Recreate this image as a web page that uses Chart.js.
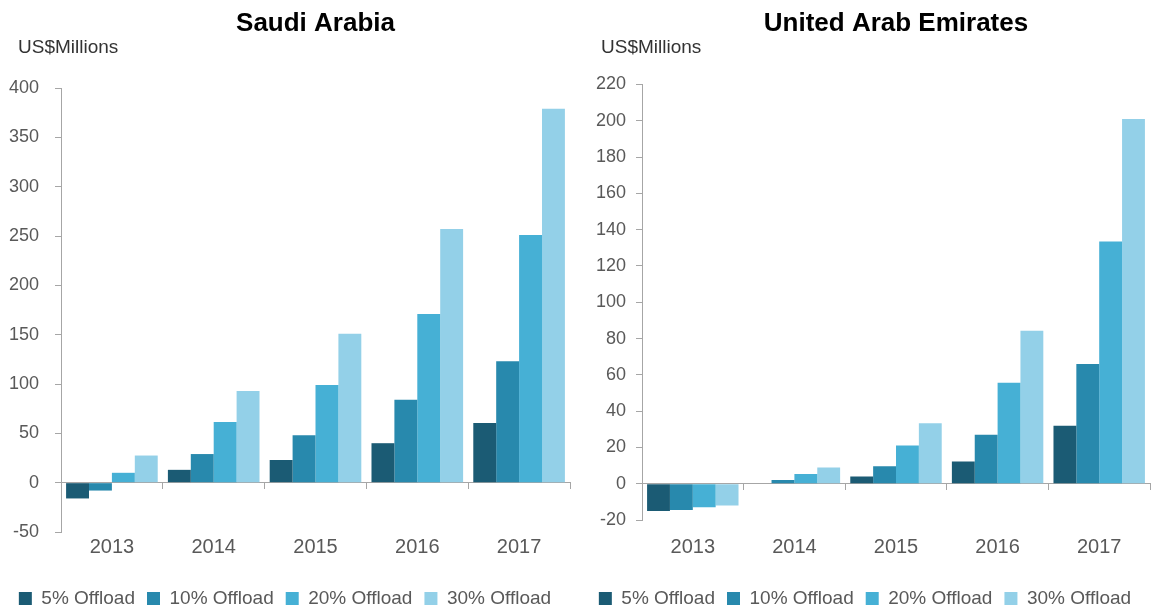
<!DOCTYPE html>
<html>
<head>
<meta charset="utf-8">
<script src="https://cdn.jsdelivr.net/npm/chart.js@4.4.1/dist/chart.umd.min.js"></script>
<style>
  body { margin: 0; background: #fff; }
  #wrap { display: flex; width: 1157px; height: 607px; }
  .box { position: relative; height: 607px; }
</style>
</head>
<body>
<div id="wrap">
  <div class="box" style="width:580px"><canvas id="saudi"></canvas></div>
  <div class="box" style="width:577px"><canvas id="uae"></canvas></div>
</div>
<script>
const years = ['2013', '2014', '2015', '2016', '2017'];
const seriesNames = ['5% Offload', '10% Offload', '20% Offload', '30% Offload'];
const seriesColors = ['#1b5b74', '#2889ad', '#46b0d5', '#93d0e8'];

// Saudi Arabia, US$ millions
const saudi5 = [-16, 13, 23, 40, 60.5];
const saudi10 = [-8, 29, 48, 84, 123];
const saudi20 = [10, 61.5, 99, 171, 251];
const saudi30 = [27.5, 93, 151, 257, 379];
const saudiTicks = [-50, 400, 50];

// United Arab Emirates, US$ millions
const uae5 = [-15, 0, 4, 12.3, 32];
const uae10 = [-14.5, 2, 9.6, 27, 66];
const uae20 = [-13, 5.3, 21, 55.6, 133.5];
const uae30 = [-12, 9, 33.3, 84.3, 201];
const uaeTicks = [-20, 220, 20];

const font = "'Liberation Sans', Arial, sans-serif";
const axisGrey = '#a6a6a6';
const textGrey = '#595959';

// "US$Millions" sits above the y axis, left of the plot
const unitLabel = {
  id: 'unitLabel',
  afterDraw(chart, args, opts) {
    const ctx = chart.ctx;
    ctx.save();
    ctx.font = '19px ' + font;
    ctx.fillStyle = '#333';
    ctx.textBaseline = 'middle';
    ctx.fillText(opts.text, opts.x, opts.y);
    ctx.restore();
  }
};

function makeChart(id, title, sets, yTicks, lay) {
  return new Chart(document.getElementById(id), {
    type: 'bar',
    data: {
      labels: years,
      datasets: sets.map((vals, i) => ({
        label: seriesNames[i],
        data: vals,
        backgroundColor: seriesColors[i],
        xAxisID: 'x',
        barPercentage: 1,
        categoryPercentage: 0.9
      }))
    },
    plugins: [unitLabel],
    options: {
      responsive: true,
      maintainAspectRatio: false,
      animation: false,
      layout: { padding: { left: 0, right: lay.right, top: 0, bottom: -11 } },
      plugins: {
        title: {
          display: true, text: title, fullSize: false, color: '#000',
          font: { family: font, size: 26, weight: 'bold' },
          padding: { top: 8, bottom: lay.top }
        },
        unitLabel: { text: 'US$Millions', x: lay.unitX, y: 48 },
        legend: {
          position: 'bottom',
          title: { display: true, text: ' ', font: { size: 1 }, padding: { top: 0, bottom: lay.legendGap } },
          labels: { boxWidth: 13, boxHeight: 13, color: textGrey, font: { family: font, size: 19 }, padding: 12 }
        },
        tooltip: { enabled: false }
      },
      scales: {
        x: {
          position: { y: 0 },
          ticks: { display: false },
          grid: { drawOnChartArea: false, tickLength: 6, color: axisGrey },
          border: { color: axisGrey }
        },
        xl: {
          type: 'category',
          position: 'bottom',
          grid: { display: false, drawTicks: false },
          border: { display: false },
          ticks: { color: textGrey, font: { family: font, size: 20 }, padding: lay.xpad }
        },
        y: {
          min: yTicks[0], max: yTicks[1],
          ticks: { stepSize: yTicks[2], color: textGrey, font: { family: font, size: 18 }, padding: lay.ypad },
          grid: { drawOnChartArea: false, tickLength: 6, color: axisGrey },
          border: { color: axisGrey },
          afterFit: s => { s.width = lay.yw; }
        }
      }
    }
  });
}

makeChart('saudi', 'Saudi Arabia', [saudi5, saudi10, saudi20, saudi30], saudiTicks,
  { right: 10, yw: 61, ypad: 16, top: 48.8, xpad: 3, legendGap: 13.8, unitX: 18 });
makeChart('uae', 'United Arab Emirates', [uae5, uae10, uae20, uae30], uaeTicks,
  { right: 7, yw: 62, ypad: 10, top: 45.3, xpad: 15, legendGap: 1.8, unitX: 21 });
</script>
</body>
</html>
